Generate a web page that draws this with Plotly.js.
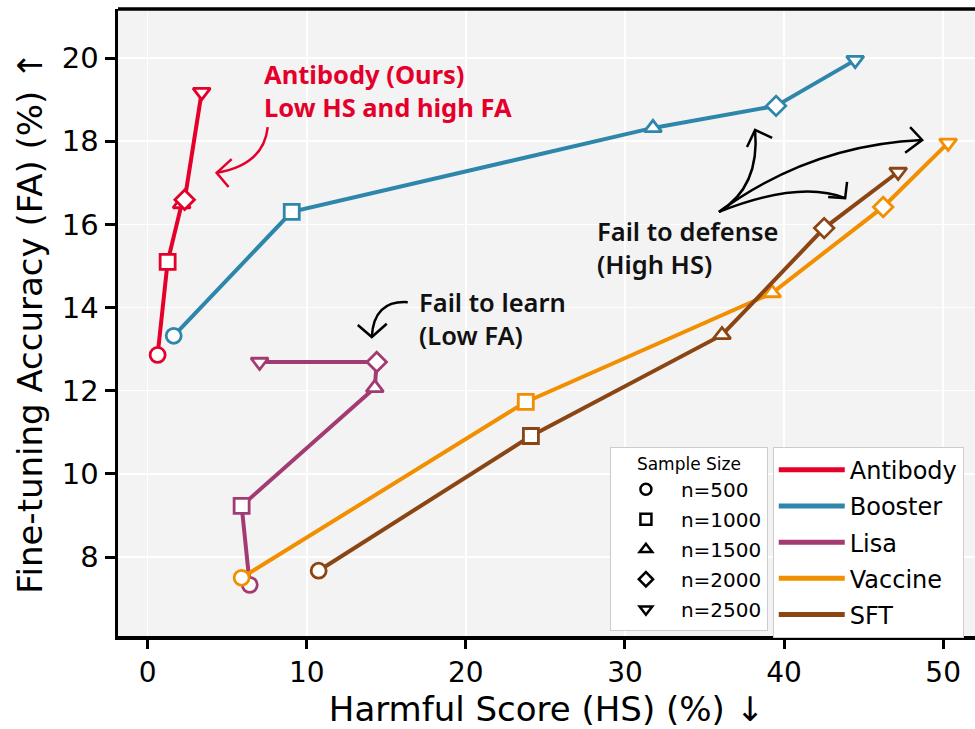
<!DOCTYPE html>
<html>
<head>
<meta charset="utf-8">
<script src="https://cdn.plot.ly/plotly-3.0.1.min.js"></script>
<style>html,body{margin:0;padding:0;background:#fff;overflow:hidden}#chart{width:975px;height:729px}</style>
</head>
<body>
<div id="chart"></div>
<script>
// ---- data ----
const methods = ["Antibody", "Booster", "Lisa", "Vaccine", "SFT"];
const sampleSizes = [500, 1000, 1500, 2000, 2500];
const sizeLabels = ["n=500", "n=1000", "n=1500", "n=2000", "n=2500"];

const antibodyHS = [0.63, 1.26, 2.14, 2.33, 3.40];
const antibodyFA = [12.86, 15.10, 16.49, 16.59, 19.18];
const boosterHS = [1.64, 9.06, 31.76, 39.50, 44.47];
const boosterFA = [13.32, 16.30, 18.32, 18.85, 19.95];
const lisaHS = [6.42, 5.91, 14.28, 14.40, 7.04];
const lisaFA = [7.33, 9.23, 12.07, 12.69, 12.69];
const vaccineHS = [5.91, 23.77, 39.25, 46.23, 50.31];
const vaccineFA = [7.50, 11.73, 14.35, 16.42, 17.96];
const sftHS = [10.75, 24.09, 36.10, 42.52, 47.17];
const sftFA = [7.67, 10.91, 13.34, 15.91, 17.26];

const xTicks = [0, 10, 20, 30, 40, 50];
const yTicks = [8, 10, 12, 14, 16, 18, 20];

// ---- styles ----
const colors = {Antibody: "#E4002B", Booster: "#2E86AB", Lisa: "#A23B72", Vaccine: "#F18F01", SFT: "#8B4513"};
const symbols = ["circle", "square", "triangle-up", "diamond", "triangle-down"];
const seriesHS = [antibodyHS, boosterHS, lisaHS, vaccineHS, sftHS];
const seriesFA = [antibodyFA, boosterFA, lisaFA, vaccineFA, sftFA];

const traces = [];
methods.forEach((m, i) => {
  traces.push({
    type: "scatter", mode: "lines+markers", name: m, showlegend: false,
    x: seriesHS[i], y: seriesFA[i],
    text: sampleSizes.map(s => "n=" + s),
    line: {color: colors[m], width: 4},
    marker: {symbol: symbols, size: 15, color: "#ffffff", line: {color: colors[m], width: 2.8}},
    cliponaxis: false
  });
});
// sample-size legend
sampleSizes.forEach((s, i) => {
  traces.push({
    type: "scatter", mode: "markers", name: sizeLabels[i], legend: "legend", legendgroup: "s" + s,
    x: [null], y: [null],
    marker: {symbol: symbols[i], size: 11, color: "#ffffff", line: {color: "#000000", width: 2.5}}
  });
});
// method legend
methods.forEach((m, i) => {
  traces.push({
    type: "scatter", mode: "lines", name: m, legend: "legend2", legendgroup: m,
    x: [null], y: [null],
    line: {color: colors[m], width: 5}
  });
});

const K = "#000000";
const shapes = [
  {type: "line", xref: "paper", yref: "paper", x0: 0, x1: 1.01, y0: 1, y1: 1, line: {color: K, width: 3.5}},
  // red arrow
  {type: "path", xref: "x", yref: "y", path: "M7.55,18.34 Q7.30,17.43 4.34,17.24", line: {color: "#E4002B", width: 2.5}},
  {type: "path", xref: "x", yref: "y", path: "M5.28,17.57 L4.34,17.24 L5.09,16.90", line: {color: "#E4002B", width: 2.5}},
  // fail to learn arrow
  {type: "path", xref: "x", yref: "y", path: "M16.35,14.13 Q14.21,14.18 14.09,13.29", line: {color: K, width: 2.5}},
  {type: "path", xref: "x", yref: "y", path: "M13.21,13.58 L14.09,13.29 L15.03,13.61", line: {color: K, width: 2.5}},
  // fail to defense arrows
  {type: "path", xref: "x", yref: "y", path: "M35.91,16.30 Q38.49,16.90 38.18,18.27", line: {color: K, width: 2.5}},
  {type: "path", xref: "x", yref: "y", path: "M37.67,17.86 L38.18,18.27 L39.25,18.08", line: {color: K, width: 2.5}},
  {type: "path", xref: "x", yref: "y", path: "M35.91,16.30 Q41.64,17.91 48.68,18.03", line: {color: K, width: 2.5}},
  {type: "path", xref: "x", yref: "y", path: "M47.92,18.34 L48.68,18.03 L47.61,17.72", line: {color: K, width: 2.5}},
  {type: "path", xref: "x", yref: "y", path: "M35.91,16.30 Q41.01,17.07 43.84,16.63", line: {color: K, width: 2.5}},
  {type: "path", xref: "x", yref: "y", path: "M43.96,17.02 L43.84,16.63 L42.77,16.66", line: {color: K, width: 2.5}}
];

const annFont = "Noto Sans, Inter, DejaVu Sans, sans-serif";
const annotations = [
  {xref: "x", yref: "y", x: 7.22, y: 19.21, xanchor: "left", yanchor: "middle", align: "left", showarrow: false,
   text: "Antibody (Ours)<br>Low HS and high FA", font: {family: annFont, size: 25.5, color: "#E4002B", weight: 700}},
  {xref: "x", yref: "y", x: 16.95, y: 13.74, xanchor: "left", yanchor: "middle", align: "left", showarrow: false,
   text: "Fail to learn<br>(Low FA)", font: {family: annFont, size: 25.5, color: "#111111", weight: 600}},
  {xref: "x", yref: "y", x: 28.1, y: 15.44, xanchor: "left", yanchor: "middle", align: "left", showarrow: false,
   text: "Fail to defense<br>(High HS)", font: {family: annFont, size: 25.5, color: "#111111", weight: 600}}
];

const baseFont = "DejaVu Sans, sans-serif";
const layout = {
  width: 975, height: 729,
  margin: {l: 118, r: 0, t: 9, b: 93},
  paper_bgcolor: "#ffffff", plot_bgcolor: "#f3f3f3",
  font: {family: baseFont, color: "#000000"},
  xaxis: {
    range: [-1.86, 52.0], tickvals: xTicks, ticktext: xTicks.map(String),
    showgrid: true, gridcolor: "#ffffff", gridwidth: 1.6, zeroline: false,
    showline: true, linecolor: K, linewidth: 3.5,
    ticks: "outside", ticklen: 9, tickwidth: 3, tickcolor: K,
    tickfont: {size: 28, family: baseFont},
    title: {text: "Harmful Score (HS) (%) ↓", font: {size: 34, family: baseFont}, standoff: 8}
  },
  yaxis: {
    range: [6.10, 21.18], tickvals: yTicks, ticktext: yTicks.map(String),
    showgrid: true, gridcolor: "#ffffff", gridwidth: 1.6, zeroline: false,
    showline: true, linecolor: K, linewidth: 3.5,
    ticks: "outside", ticklen: 10, tickwidth: 3, tickcolor: K,
    tickfont: {size: 29, family: baseFont},
    title: {text: "Fine-tuning Accuracy (FA) (%) ↑", font: {size: 34, family: baseFont}, standoff: 10}
  },
  legend: {
    x: 0.574, y: 0.302, xanchor: "left", yanchor: "top",
    bgcolor: "#ffffff", bordercolor: "#cccccc", borderwidth: 1,
    font: {size: 20, family: baseFont}, itemwidth: 60,
    title: {text: "Sample Size", side: "top center", font: {size: 17, family: baseFont}},
    tracegroupgap: 1
  },
  legend2: {
    x: 0.764, y: 0.302, xanchor: "left", yanchor: "top",
    bgcolor: "#ffffff", bordercolor: "#cccccc", borderwidth: 1,
    font: {size: 24, family: baseFont}, itemwidth: 66, tracegroupgap: 2
  },
  shapes: shapes,
  annotations: annotations,
  showlegend: true
};

Plotly.newPlot("chart", traces, layout, {displayModeBar: false, staticPlot: true});
</script>
</body>
</html>
